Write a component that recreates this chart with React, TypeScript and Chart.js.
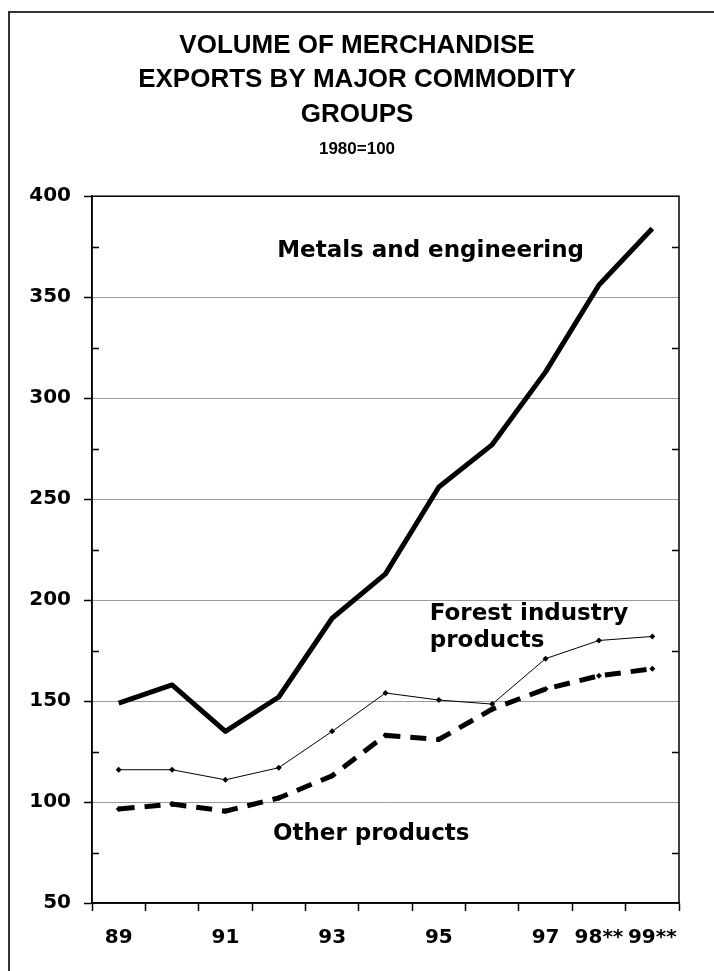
import React, { useEffect, useRef } from 'react';
import { Chart, registerables } from 'chart.js';

Chart.register(...registerables);

// ---- data ----
const years = ['89', '90', '91', '92', '93', '94', '95', '96', '97', '98', '99'];
const tickLabels = ['89', '', '91', '', '93', '', '95', '', '97', '98**', '99**'];
const metals = [149, 158, 135, 152, 191, 213, 256, 277, 313, 356, 384];
const forest = [116, 116, 111, 117, 135, 154, 150.5, 148.5, 171, 180, 182];
const other = [96.5, 99, 95.5, 102, 113, 133, 131, 146, 156, 162.5, 166];
const titleLines = ['VOLUME OF MERCHANDISE', 'EXPORTS BY MAJOR COMMODITY', 'GROUPS'];
const subtitleText = '1980=100';
const seriesNames = ['Metals and engineering', 'Forest industry products', 'Other products'];
const yMin = 50;
const yMax = 400;
const majorStep = 50;
const minorStep = 25;

const FONT = '"DejaVu Sans", "Liberation Sans", Arial, sans-serif';
const TITLE_FONT = '"Liberation Sans", Arial, Helvetica, sans-serif';

const decorPlugin = {
  id: 'decor',
  beforeDraw(chart: any) {
    const ctx = chart.ctx;
    ctx.save();
    ctx.fillStyle = '#ffffff';
    ctx.fillRect(0, 0, chart.width, chart.height);
    // outer frame (top and left edges visible)
    ctx.strokeStyle = '#333333';
    ctx.lineWidth = 2;
    ctx.beginPath();
    ctx.moveTo(9, chart.height + 5);
    ctx.lineTo(9, 12);
    ctx.lineTo(chart.width + 5, 12);
    ctx.stroke();
    ctx.restore();
  },
  beforeDatasetsDraw(chart: any) {
    const ctx = chart.ctx;
    const { left, right, top, bottom } = chart.chartArea;
    const y = chart.scales.y;
    ctx.save();
    ctx.strokeStyle = '#000000';
    ctx.lineWidth = 1.5;
    // minor inward ticks on both sides
    ctx.beginPath();
    for (let v = yMin + minorStep; v < yMax; v += majorStep) {
      const py = Math.round(y.getPixelForValue(v)) + 0.5;
      ctx.moveTo(left, py);
      ctx.lineTo(left + 7, py);
      ctx.moveTo(right - 7, py);
      ctx.lineTo(right, py);
    }
    ctx.stroke();
    // plot frame
    ctx.strokeRect(left, top, right - left, bottom - top);
    ctx.restore();
  },
  afterDatasetsDraw(chart: any) {
    const ctx = chart.ctx;
    const x = chart.scales.x;
    const y = chart.scales.y;
    ctx.save();
    ctx.fillStyle = '#000000';
    ctx.font = `bold 23px ${FONT}`;
    ctx.textAlign = 'left';
    ctx.textBaseline = 'alphabetic';
    ctx.fillText(seriesNames[0], x.getPixelForValue(2.97), y.getPixelForValue(370));
    ctx.fillText('Forest industry', x.getPixelForValue(5.83), y.getPixelForValue(190));
    ctx.fillText('products', x.getPixelForValue(5.83), y.getPixelForValue(176.7));
    ctx.fillText(seriesNames[2], x.getPixelForValue(2.89), y.getPixelForValue(81.2));
    ctx.restore();
  },
};

export default function App() {
  const ref = useRef<HTMLCanvasElement>(null);

  useEffect(() => {
    if (!ref.current) return;
    Chart.defaults.color = '#000000';
    Chart.defaults.font.family = FONT;
    const chart = new Chart(ref.current, {
      type: 'line',
      data: {
        labels: years,
        datasets: [
          {
            label: seriesNames[0],
            data: metals,
            borderColor: '#000000',
            backgroundColor: '#000000',
            borderWidth: 5,
            pointRadius: 0,
            borderJoinStyle: 'round',
            tension: 0,
          },
          {
            label: seriesNames[1],
            data: forest,
            borderColor: '#000000',
            backgroundColor: '#000000',
            borderWidth: 1,
            pointRadius: 3,
            pointStyle: 'rectRot',
            pointBorderWidth: 0,
            tension: 0,
          },
          {
            label: seriesNames[2],
            data: other,
            borderColor: '#000000',
            backgroundColor: '#000000',
            borderWidth: 5,
            borderDash: [16, 10],
            pointRadius: 3,
            pointStyle: 'rectRot',
            pointBorderWidth: 0,
            tension: 0,
          },
        ],
      },
      options: {
        responsive: false,
        animation: false,
        devicePixelRatio: 1,
        layout: { padding: { left: 0, right: 0, top: 0, bottom: 0 } },
        plugins: {
          legend: { display: false },
          tooltip: { enabled: false },
          title: {
            display: true,
            text: titleLines,
            color: '#000000',
            font: { family: TITLE_FONT, size: 26, weight: 'bold', lineHeight: 1.327 },
            padding: { top: 28.5, bottom: 0 },
          },
          subtitle: {
            display: true,
            text: subtitleText,
            color: '#000000',
            font: { family: TITLE_FONT, size: 17, weight: 'bold', lineHeight: 1.2 },
            padding: { top: 7, bottom: 36.8 },
          },
        },
        scales: {
          x: {
            type: 'category',
            offset: true,
            grid: {
              offset: true,
              drawOnChartArea: false,
              drawTicks: true,
              tickLength: 8,
              tickColor: '#000000',
              tickWidth: 1.5,
            },
            border: { display: true, color: '#000000', width: 1.5 },
            ticks: {
              autoSkip: false,
              maxRotation: 0,
              minRotation: 0,
              padding: 15,
              color: '#000000',
              font: { family: FONT, size: 20, weight: 'bold' },
              callback: (_v: any, i: number) => tickLabels[i],
            },
            afterFit: (s: any) => {
              s.height = 68;
            },
          },
          y: {
            min: yMin,
            max: yMax,
            grid: {
              color: '#9a9a9a',
              lineWidth: 1,
              tickLength: 8,
              tickColor: '#000000',
              tickWidth: 1.5,
            },
            border: { display: true, color: '#000000', width: 1.5 },
            ticks: {
              stepSize: majorStep,
              padding: 13,
              color: '#000000',
              font: { family: FONT, size: 20, weight: 'bold' },
            },
            afterFit: (s: any) => {
              s.width = 92;
            },
          },
          yRight: {
            position: 'right',
            min: yMin,
            max: yMax,
            grid: { display: false, drawTicks: false },
            border: { display: false },
            ticks: { display: false },
            afterFit: (s: any) => {
              s.width = 35;
            },
          },
        },
      },
      plugins: [decorPlugin],
    });
    return () => chart.destroy();
  }, []);

  return (
    <canvas
      ref={ref}
      width={714}
      height={971}
      style={{ position: 'absolute', left: 0, top: 0, display: 'block' }}
    />
  );
}
